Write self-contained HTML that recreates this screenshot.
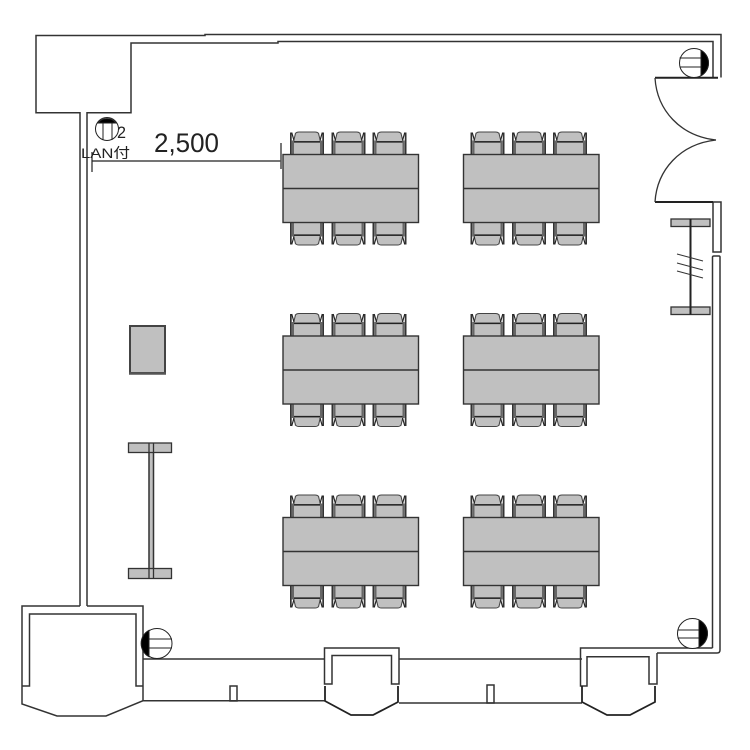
<!DOCTYPE html>
<html lang="ja">
<head>
<meta charset="utf-8">
<style>
html,body{margin:0;padding:0;background:#fff}
svg{display:block}
text{fill:#222}
</style>
</head>
<body>
<svg width="750" height="750" viewBox="0 0 750 750" xmlns="http://www.w3.org/2000/svg">
<defs>
<g id="chair">
  <rect x="2" y="1" width="30" height="23" fill="#c0c0c0"/>
  <path d="M0 0 H5 L3.5 10 H0 Z M34 0 H29 L30.5 10 H34 Z" fill="#fff"/>
  <path d="M3.5 10 L5.5 2 Q6.5 0.5 9 0.5 L25 0.5 Q27.5 0.5 28.5 2 L30.5 10 Z" fill="#c0c0c0" stroke="#444" stroke-width="1"/>
  <path d="M3 10.5 H31" stroke="#222" stroke-width="1.3" fill="none"/>
  <rect x="0" y="1" width="1.7" height="22" fill="#333"/>
  <rect x="32.3" y="1" width="1.7" height="22" fill="#333"/>
  <rect x="1.7" y="9" width="2.3" height="14" fill="#666"/>
  <rect x="30" y="9" width="2.3" height="14" fill="#666"/>
  <path d="M1.7 1 L4 9 M32.3 1 L30 9" stroke="#222" stroke-width="1.2" fill="none"/>
</g>
<g id="set">
  <use href="#chair" x="7" y="-23"/>
  <use href="#chair" x="48.5" y="-23"/>
  <use href="#chair" x="89.5" y="-23"/>
  <use href="#chair" transform="translate(7,91) scale(1,-1)"/>
  <use href="#chair" transform="translate(48.5,91) scale(1,-1)"/>
  <use href="#chair" transform="translate(89.5,91) scale(1,-1)"/>
  <rect x="0" y="0" width="135.5" height="68" fill="#c0c0c0" stroke="#333" stroke-width="1.4"/>
  <path d="M0 34 H135.5" stroke="#333" stroke-width="1.4"/>
</g>
</defs>

<!-- walls -->
<g fill="none" stroke="#333" stroke-width="1.5">
  <path d="M80 606 V112.7 H36 V35.5 H205 V34.5 H721 V77.5"/>
  <path d="M87 606 V112.7 H131 V43 H278 V41.5 H713 V77.5"/>
  <!-- door frame -->
  <path d="M655 77.7 H718" stroke="#222" stroke-width="2"/>
  <path d="M713 202 H721 V252 H713 Z" stroke-width="1.5"/>
  <path d="M655 202 H713" stroke="#222" stroke-width="2"/>
  <!-- right wall -->
  <path d="M712.5 648 V257 Q712.5 256 714 256 H719 Q720 256 720 257 V650 Q720 653 717 653 H657"/>
  <!-- bottom-left bay -->
  <path d="M80 606 H22 V704 L57 716 H106 L143 700.7 V606 H87"/>
  <path d="M22 686 H29.5 V614 H136 V686 H143"/>
  <!-- bottom lines -->
  <path d="M143 659 H324"/>
  <path d="M399 659 H582"/>
  <path d="M143 700.7 H325"/>
  <path d="M399 703 H582"/>
  <rect x="230" y="686" width="7" height="15"/>
  <rect x="487" y="685" width="7" height="18"/>
  <!-- bay 1 -->
  <path d="M324.5 684 V648 H399 V684 H391.5 V655.5 H332 V684 Z"/>
  <path d="M325 686 V701 L351 715 H373 L398 702 V686" stroke="#222" stroke-width="1.8"/>
  <!-- bay 2 -->
  <path d="M712.5 648 H580.5 V686 H587 V656.7 H649 V684 H657 V653"/>
  <path d="M582 686 V702 L607 715 H630 L655 702 V686" stroke="#222" stroke-width="1.8"/>
</g>

<!-- door arcs -->
<g fill="none" stroke="#333" stroke-width="1.3">
  <path d="M655 78 C657 110 680 136 716 140"/>
  <path d="M655 202 C657 170 680 144 716 140"/>
</g>

<!-- columns -->
<g stroke="#222" stroke-width="1" fill="#fff">
  <circle cx="157" cy="643.5" r="15"/>
  <path d="M149 630.3 A15 15 0 0 0 149 656.7 Z" fill="#000"/>
  <path d="M149 639 H172 M149 648 H172" fill="none"/>
  <circle cx="694" cy="63" r="14.5"/>
  <path d="M701 50.3 A14.5 14.5 0 0 1 701 75.7 Z" fill="#000"/>
  <path d="M679.5 58 H701 M679.5 67 H701" fill="none"/>
  <circle cx="692.5" cy="633.5" r="15"/>
  <path d="M699 620 A15 15 0 0 1 699 647 Z" fill="#000"/>
  <path d="M677.5 630 H699 M677.5 638 H699" fill="none"/>
  <circle cx="107" cy="129" r="11.5"/>
  <path d="M98 123 A11.5 11.5 0 0 1 116 123 Z" fill="#000"/>
  <path d="M103 123 V140 M112 123 V140" fill="none"/>
</g>

<!-- labels and dimension -->
<text x="117" y="138" font-family="'Liberation Sans',sans-serif" font-size="17" textLength="9" lengthAdjust="spacingAndGlyphs">2</text>
<text x="81" y="158" font-family="'Liberation Sans','Noto Sans CJK JP',sans-serif" font-size="14" textLength="49" lengthAdjust="spacingAndGlyphs">LAN付</text>
<text x="154" y="152" font-family="'Liberation Sans',sans-serif" font-size="27" textLength="65" lengthAdjust="spacingAndGlyphs">2,500</text>
<g stroke="#222" stroke-width="1.2" fill="none">
  <path d="M92 161 H281"/>
  <path d="M92 152 V172"/>
</g>

<!-- tables -->
<use href="#set" x="283" y="154.5"/>
<use href="#set" x="463.5" y="154.5"/>
<use href="#set" x="283" y="336"/>
<use href="#set" x="463.5" y="336"/>
<use href="#set" x="283" y="517.5"/>
<use href="#set" x="463.5" y="517.5"/>
<path d="M281 143 V169" stroke="#555" stroke-width="1.6"/>

<!-- podium -->
<rect x="130" y="326" width="35" height="47" fill="#c0c0c0" stroke="#444" stroke-width="2"/>
<path d="M129 373.5 H166" stroke="#555" stroke-width="2.5"/>

<!-- left partition -->
<g stroke="#333" stroke-width="1.3" fill="#c0c0c0">
  <rect x="149" y="448" width="4.5" height="125"/>
  <rect x="128.5" y="443" width="43" height="9.5"/>
  <rect x="128.5" y="568.5" width="43" height="10"/>
  <path d="M149 443 V579 M153.5 443 V579" fill="none"/>
</g>

<!-- right partition -->
<g stroke="#333" stroke-width="1.3" fill="#c0c0c0">
  <rect x="671" y="219" width="39" height="7.5"/>
  <rect x="671" y="307" width="39" height="7.5"/>
  <path d="M690.5 219 V314.5" fill="none" stroke="#222" stroke-width="2"/>
  <path d="M677 254 L703 261 M677 263 L703 270 M677 271 L703 278" fill="none" stroke-width="1"/>
</g>
</svg>
</body>
</html>
